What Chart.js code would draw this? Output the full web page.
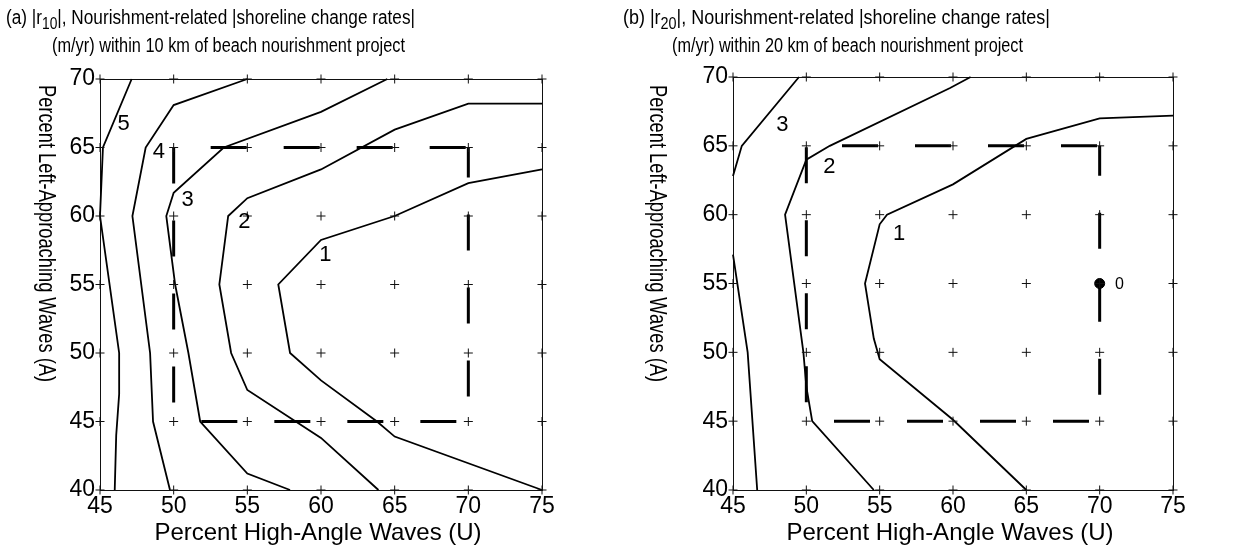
<!doctype html>
<html lang="en">

<head>
    <meta charset="utf-8">
    <title>Nourishment-related shoreline change rates</title>
    <style>
        * {
            margin: 0;
            padding: 0;
        }

        body {
            background: #fff;
            width: 1237px;
            height: 548px;
            overflow: hidden;
            position: relative;
        }

        canvas {
            position: absolute;
            top: 0;
        }

        #chartA { left: 0; }
        #chartB { left: 618px; }
    </style>
</head>

<body>
    <canvas id="chartA" width="618" height="548"></canvas>
    <canvas id="chartB" width="619" height="548"></canvas>

    <script src="https://cdn.jsdelivr.net/npm/chart.js"></script>

    <script>
        // grid of the model runs: percent high-angle waves (U) x percent left-approaching waves (A)
        const xTicks = [45, 50, 55, 60, 65, 70, 75];
        const yTicks = [40, 45, 50, 55, 60, 65, 70];

        // dashed box (range of U and A)
        const boxU = [50, 70];
        const boxA = [45, 65];

        // panel (a) |r10| contours, [U, A] vertices
        const a5 = [[47.15, 70], [45.2, 65], [45, 60], [46.3, 50], [46.3, 47], [46.1, 44], [46, 40]];
        const a4 = [[55, 70], [50, 68.1], [48.1, 65], [47.2, 60], [48.4, 50], [48.6, 45], [49.75, 40]];
        const a3 = [[64.5, 70], [60, 67.6], [53.4, 65], [50, 61.7], [49.5, 60], [50.1, 55], [51, 50], [51.8, 45], [55, 41.2], [57.9, 40]];
        const a2 = [[75, 68.2], [70, 68.2], [65, 66.3], [60, 63.4], [55, 61.3], [53.7, 60], [53.1, 55], [53.9, 50], [55, 47.3], [60, 43.8], [63.9, 40]];
        const a1 = [[75, 63.4], [70, 62.4], [65, 60], [60, 58.25], [57.1, 55], [57.9, 50], [60, 48], [63.8, 45], [65, 43.9], [75, 40]];
        const aLabels = [['5', 46.6, 66.7], ['4', 49.0, 64.7], ['3', 50.95, 61.2], ['2', 54.8, 59.55], ['1', 60.3, 57.15]];

        // panel (b) |r20| contours
        const b3top = [[49.5, 70], [45.6, 65], [45, 62.8]];
        const b3bot = [[45, 57.1], [46, 50], [46.65, 40]];
        const b2 = [[61.2, 70], [59.8, 69.2], [51.6, 65], [50, 64], [48.55, 60], [49.8, 50], [50, 47.5], [50.4, 45], [54.6, 40]];
        const b1 = [[75, 67.2], [70, 67], [65, 65.5], [60, 62.2], [55.5, 60], [55, 59.3], [54, 55], [54.6, 51], [55, 49.5], [60, 45.1], [65, 40]];
        const bZero = [[70, 55]];
        const bLabels = [['3', 48.36, 66.5], ['2', 51.57, 63.46], ['1', 56.32, 58.57]];
        const bZeroLabel = [['0', 71.35, 54.9]];

        const FONT = "'Liberation Sans', Arial, Helvetica, sans-serif";
        const xTitle = 'Percent High-Angle Waves (U)';
        const yTitle = 'Percent Left-Approaching Waves (A)';

        const toXY = arr => arr.map(p => ({ x: p[0], y: p[1] }));
        const grid = [];
        xTicks.forEach(u => yTicks.forEach(a => grid.push([u, a])));

        // draw a run of text pieces squeezed to fit between x0 and x1
        function fitLine(ctx, parts, x0, x1, base) {
            let w = 0;
            parts.forEach(p => {
                ctx.font = p[1] + 'px ' + FONT;
                w += ctx.measureText(p[0]).width;
            });
            const k = (x1 - x0) / w;
            ctx.save();
            ctx.translate(x0, base);
            ctx.scale(k, 1);
            ctx.textBaseline = 'alphabetic';
            ctx.textAlign = 'left';
            let x = 0;
            parts.forEach(p => {
                ctx.font = p[1] + 'px ' + FONT;
                ctx.fillText(p[0], x, p[2] || 0);
                x += ctx.measureText(p[0]).width;
            });
            ctx.restore();
        }

        const decor = {
            id: 'decor',
            beforeDatasetsDraw(chart) {
                const { ctx, chartArea: ca } = chart;
                ctx.save();
                ctx.strokeStyle = '#111';
                ctx.lineWidth = 1;
                ctx.strokeRect(Math.round(ca.left) + 0.5, Math.round(ca.top) + 0.5,
                    Math.round(ca.width), Math.round(ca.height));
                ctx.restore();
            },
            afterDraw(chart, args, o) {
                const { ctx, chartArea: ca, scales } = chart;
                ctx.save();
                ctx.fillStyle = '#000';
                // two-line title
                fitLine(ctx, o.line1, o.l1[0], o.l1[1], o.l1[2]);
                fitLine(ctx, [[o.line2, 20]], o.l2[0], o.l2[1], o.l2[2]);
                // x axis title
                ctx.font = '24px ' + FONT;
                ctx.textAlign = 'center';
                ctx.textBaseline = 'middle';
                ctx.fillText(xTitle, (ca.left + ca.right) / 2 - 3, 533);
                // y axis title, reading downwards
                ctx.save();
                ctx.translate(o.yTitleX, 233.5);
                ctx.rotate(Math.PI / 2);
                const w = ctx.measureText(yTitle).width;
                ctx.scale(297 / w, 1);
                ctx.fillText(yTitle, 0, 0);
                ctx.restore();
                // contour labels
                ctx.font = '22px ' + FONT;
                o.labels.forEach(l => {
                    ctx.fillText(l[0], scales.x.getPixelForValue(l[1]), scales.y.getPixelForValue(l[2]));
                });
                ctx.font = '16px ' + FONT;
                (o.small || []).forEach(l => {
                    ctx.fillText(l[0], scales.x.getPixelForValue(l[1]), scales.y.getPixelForValue(l[2]));
                });
                ctx.restore();
            }
        };

        function lineSet(arr, extra) {
            return Object.assign({
                data: toXY(arr),
                showLine: true,
                borderColor: '#000',
                borderWidth: 1.8,
                pointRadius: 0,
                tension: 0,
                clip: 4
            }, extra || {});
        }

        function makePanel(id, contours, extraSets, pad, opts) {
            const boxPath1 = [[boxU[0], boxA[0]], [boxU[0], boxA[1]], [boxU[1], boxA[1]]];
            const boxPath2 = [[boxU[1], boxA[1]], [boxU[1], boxA[0]], [boxU[0], boxA[0]]];
            const datasets = [
                {
                    data: toXY(grid),
                    pointStyle: 'cross',
                    pointRadius: 4.5,
                    borderColor: '#111',
                    borderWidth: 1,
                    clip: false
                },
                lineSet(boxPath1, { borderWidth: 3, borderDash: [36, 37], borderDashOffset: 54, borderCapStyle: 'butt' }),
                lineSet(boxPath2, { borderWidth: 3, borderDash: [36, 37], borderDashOffset: 6, borderCapStyle: 'butt' })
            ].concat(contours.map(c => lineSet(c))).concat(extraSets);

            const axisFont = { family: FONT, size: 23 };
            return new Chart(document.getElementById(id), {
                type: 'scatter',
                data: { datasets },
                options: {
                    responsive: false,
                    animation: false,
                    layout: { padding: pad },
                    plugins: {
                        legend: { display: false },
                        tooltip: { enabled: false },
                        decor: opts
                    },
                    scales: {
                        x: {
                            type: 'linear',
                            min: 45,
                            max: 75,
                            afterBuildTicks: s => { s.ticks = xTicks.map(v => ({ value: v })); },
                            afterFit: s => { s.height = 58; },
                            grid: { display: false, drawTicks: false },
                            border: { display: false },
                            ticks: { font: axisFont, color: '#000', padding: 3, autoSkip: false, maxRotation: 0 }
                        },
                        y: {
                            type: 'linear',
                            min: 40,
                            max: 70,
                            afterBuildTicks: s => { s.ticks = yTicks.map(v => ({ value: v })); },
                            afterFit: s => { s.width = pad.yw; },
                            grid: { display: false, drawTicks: false },
                            border: { display: false },
                            ticks: { font: axisFont, color: '#000', padding: 5 }
                        }
                    }
                },
                plugins: [decor]
            });
        }

        makePanel('chartA', [a5, a4, a3, a2, a1], [],
            { left: 0, right: 76, top: 79, bottom: 0, yw: 100 },
            {
                line1: [['(a) |r', 20], ['10', 16, 5], ['|, Nourishment-related |shoreline change rates|', 20]],
                l1: [6, 415, 24],
                line2: '(m/yr) within 10 km of beach nourishment project',
                l2: [52, 405, 52],
                yTitleX: 46,
                labels: aLabels
            });

        makePanel('chartB', [b3top, b3bot, b2, b1],
            [{ data: toXY(bZero), pointRadius: 5, backgroundColor: '#000', borderColor: '#000' }],
            { left: 0, right: 64, top: 77, bottom: 0, yw: 115 },
            {
                line1: [['(b) |r', 20], ['20', 16, 5], ['|, Nourishment-related |shoreline change rates|', 20]],
                l1: [5, 432, 24],
                line2: '(m/yr) within 20 km of beach nourishment project',
                l2: [54, 405, 52],
                yTitleX: 39,
                labels: bLabels,
                small: bZeroLabel
            });
    </script>

</body>

</html>
